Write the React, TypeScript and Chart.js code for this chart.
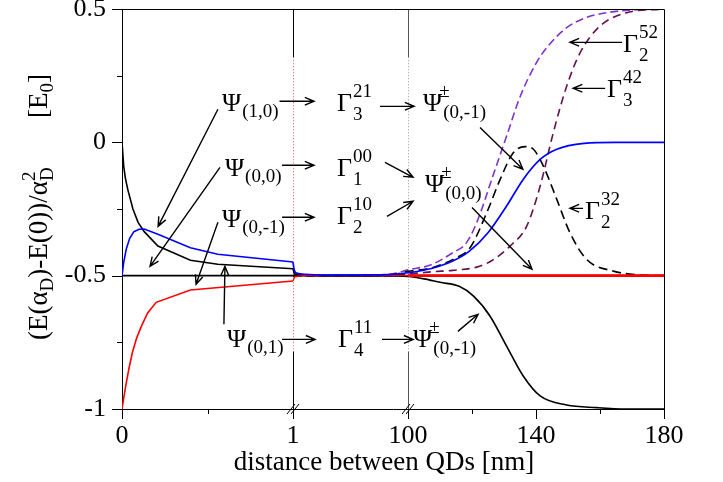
import React, { useEffect, useRef } from 'react';
import { Chart, registerables, LinearScale } from 'chart.js';

// ---------- axis layout (broken x axis: 0–1, 1–100, 100–180 nm) ----------
const AXIS_BREAKS = [0, 1, 100, 180];
const SEGMENT_WIDTHS = [171, 115, 256];

const X_TICKS = [0, 0.5, 1, 100, 120, 140, 160, 180];
const X_MAJOR = [0, 1, 100, 140, 180];
const Y_TICKS = [-1, -0.75, -0.5, -0.25, 0, 0.25, 0.5];
const Y_MAJOR = [-1, -0.5, 0, 0.5];
const Y_LABELS: Record<string, string> = { '-1': '-1', '-0.5': '-0.5', '0': '0', '0.5': '0.5' };

// ---------- data: segment 0–1 nm ----------
const NEAR_BLACK_X = [0, 0.01, 0.02, 0.035, 0.064, 0.094, 0.13, 0.21, 0.4, 0.56, 1];
const NEAR_BLACK_Y = [0, -0.09, -0.135, -0.18, -0.25, -0.3, -0.335, -0.389, -0.442, -0.457, -0.474];
const NEAR_BLUE_X = [0, 0.01, 0.025, 0.045, 0.07, 0.1, 0.13, 0.21, 0.4, 0.56, 1];
const NEAR_BLUE_Y = [-0.5, -0.45, -0.4, -0.36, -0.335, -0.326, -0.325, -0.345, -0.395, -0.42, -0.449];
const NEAR_RED_X = [0, 0.02, 0.04, 0.06, 0.085, 0.113, 0.15, 0.2, 0.4, 1];
const NEAR_RED_Y = [-1, -0.92, -0.85, -0.79, -0.735, -0.69, -0.64, -0.6, -0.554, -0.52];
const FLAT_X = [0, 180];
const FLAT_Y = [-0.5, -0.5];

// ---------- data: 1–180 nm ----------
const FAR_BLUE_X = [1, 2, 4, 12, 30, 70, 90, 100, 107, 114, 119, 125, 130.8, 136, 141.3, 146.5, 155, 165, 180];
const FAR_BLUE_Y = [-0.449, -0.478, -0.49, -0.495, -0.498, -0.497, -0.494, -0.489, -0.474, -0.445, -0.41, -0.339, -0.239, -0.139, -0.064, -0.026, -0.004, 0, 0];
const FAR_BLACK_X = [1, 2, 4, 12, 50, 80, 100, 105, 110, 116, 120.4, 125.6, 130.8, 136, 141.3, 149.6, 159, 168, 180];
const FAR_BLACK_Y = [-0.474, -0.49, -0.495, -0.498, -0.5, -0.5, -0.503, -0.512, -0.525, -0.54, -0.576, -0.651, -0.764, -0.876, -0.951, -0.985, -0.995, -1, -1];
const MID_RED_X = [1, 2, 4, 12, 100];
const MID_RED_Y = [-0.52, -0.508, -0.503, -0.5, -0.5];
const FAR_RED_X = [100, 180];
const FAR_RED_Y = [-0.5, -0.5];
const PURPLE_X = [1, 60, 80, 90, 100, 107, 114, 118.3, 121.5, 126.7, 131, 135, 140.2, 144.4, 149.6, 155, 162, 170, 180];
const PURPLE_Y = [-0.5, -0.5, -0.496, -0.49, -0.478, -0.46, -0.414, -0.376, -0.3, -0.12, 0.03, 0.17, 0.3, 0.37, 0.43, 0.465, 0.486, 0.496, 0.5];
const DASHED_BLACK_X = [1, 70, 90, 100, 107, 115.2, 119.4, 124.6, 128.8, 132.9, 136.6, 139.2, 142.3, 146.5, 150.6, 155.8, 164.2, 172, 180];
const DASHED_BLACK_Y = [-0.5, -0.5, -0.494, -0.484, -0.472, -0.432, -0.395, -0.264, -0.139, -0.039, -0.016, -0.026, -0.089, -0.214, -0.339, -0.439, -0.483, -0.497, -0.5];
const MAROON_X = [1, 80, 100, 107.9, 114, 121.5, 126, 131.9, 137.1, 141.3, 145.4, 149.6, 153.8, 160, 168.3, 180];
const MAROON_Y = [-0.5, -0.5, -0.494, -0.485, -0.48, -0.468, -0.445, -0.389, -0.314, -0.164, 0.036, 0.211, 0.336, 0.436, 0.486, 0.5];

// ---------- annotations (data coordinates) ----------
type Label = { x: number; y: number; main: string; sup?: string; sub?: string };
const LABELS: Label[] = [
  { x: 0.585, y: 0.116, main: 'Ψ', sub: '(1,0)' },
  { x: 38.9, y: 0.116, main: 'Γ', sup: '21', sub: '3' },
  { x: 104.7, y: 0.116, main: 'Ψ', sup: '±', sub: '(0,-1)' },
  { x: 0.602, y: -0.1275, main: 'Ψ', sub: '(0,0)' },
  { x: 38.9, y: -0.1275, main: 'Γ', sup: '00', sub: '1' },
  { x: 105.3, y: -0.1875, main: 'Ψ', sup: '±', sub: '(0,0)' },
  { x: 0.585, y: -0.319, main: 'Ψ', sub: '(0,-1)' },
  { x: 38.9, y: -0.3075, main: 'Γ', sup: '10', sub: '2' },
  { x: 0.614, y: -0.769, main: 'Ψ', sub: '(0,1)' },
  { x: 39.7, y: -0.769, main: 'Γ', sup: '11', sub: '4' },
  { x: 101.6, y: -0.769, main: 'Ψ', sup: '±', sub: '(0,-1)' },
  { x: 167.2, y: 0.3375, main: 'Γ', sup: '52', sub: '2' },
  { x: 162.2, y: 0.169, main: 'Γ', sup: '42', sub: '3' },
  { x: 155.3, y: -0.289, main: 'Γ', sup: '32', sub: '2' },
];
// [x1, y1, x2, y2] – arrow from (x1,y1) pointing to (x2,y2)
const ARROWS: number[][] = [
  [0.921, 0.154, 19.1, 0.154],
  [75.9, 0.135, 101.9, 0.135],
  [0.936, -0.086, 19.1, -0.086],
  [80.2, -0.075, 101.6, -0.131],
  [0.936, -0.281, 19.1, -0.281],
  [81.9, -0.2775, 101.6, -0.221],
  [0.936, -0.739, 20, -0.739],
  [77.6, -0.739, 101.6, -0.739],
  [115.6, -0.709, 121.9, -0.645],
  [166.9, 0.375, 150.6, 0.375],
  [161.6, 0.2025, 151.6, 0.2025],
  [154.7, -0.2475, 150.6, -0.2475],
  [122.5, 0.056, 135.9, -0.101],
  [120, -0.244, 138.75, -0.476],
  [0.561, 0.124, 0.211, -0.315],
  [0.573, -0.094, 0.164, -0.465],
  [0.561, -0.3, 0.433, -0.5325],
  [0.596, -0.6825, 0.602, -0.465],
];
const BREAK_LINES = [
  { x: 1, solid: '#000000', dotted: '#e05a5a' },
  { x: 100, solid: '#555555', dotted: '#9a9a9a' },
];
const DOTTED_FROM = 0.319;
const DOTTED_TO = -0.784;

const X_TITLE = 'distance between QDs [nm]';

// ---------- custom broken scale ----------
const TOTAL_W = SEGMENT_WIDTHS.reduce((a, b) => a + b, 0);
function nmToDecimal(v: number) {
  let acc = 0;
  for (let i = 0; i < SEGMENT_WIDTHS.length; i++) {
    const a = AXIS_BREAKS[i];
    const b = AXIS_BREAKS[i + 1];
    if (v <= b || i === SEGMENT_WIDTHS.length - 1) {
      return (acc + ((v - a) / (b - a)) * SEGMENT_WIDTHS[i]) / TOTAL_W;
    }
    acc += SEGMENT_WIDTHS[i];
  }
  return 1;
}
function decimalToNm(d: number) {
  let pos = d * TOTAL_W;
  for (let i = 0; i < SEGMENT_WIDTHS.length; i++) {
    if (pos <= SEGMENT_WIDTHS[i] || i === SEGMENT_WIDTHS.length - 1) {
      return AXIS_BREAKS[i] + (pos / SEGMENT_WIDTHS[i]) * (AXIS_BREAKS[i + 1] - AXIS_BREAKS[i]);
    }
    pos -= SEGMENT_WIDTHS[i];
  }
  return AXIS_BREAKS[AXIS_BREAKS.length - 1];
}

class BrokenScale extends LinearScale {
  static id = 'broken';
  static defaults = LinearScale.defaults;
  getPixelForValue(value: any) {
    if (value === null || value === undefined || isNaN(value)) return NaN;
    return this.getPixelForDecimal(nmToDecimal(value));
  }
  getValueForPixel(pixel: number) {
    return decimalToNm(this.getDecimalForPixel(pixel));
  }
}

Chart.register(...registerables, BrokenScale as any);

const FONT = '"Liberation Serif", "Times New Roman", serif';
const BIG = 26;
const SMALL = 19;

function pts(xs: number[], ys: number[]) {
  return xs.map((x, i) => ({ x, y: ys[i] }));
}

function drawArrow(ctx: CanvasRenderingContext2D, x1: number, y1: number, x2: number, y2: number) {
  const ang = Math.atan2(y2 - y1, x2 - x1);
  const L = 10;
  const A = 0.4;
  ctx.beginPath();
  ctx.moveTo(x1, y1);
  ctx.lineTo(x2, y2);
  ctx.moveTo(x2 - L * Math.cos(ang - A), y2 - L * Math.sin(ang - A));
  ctx.lineTo(x2, y2);
  ctx.lineTo(x2 - L * Math.cos(ang + A), y2 - L * Math.sin(ang + A));
  ctx.stroke();
}

function drawLabel(ctx: CanvasRenderingContext2D, px: number, py: number, l: Label) {
  ctx.textAlign = 'left';
  ctx.textBaseline = 'alphabetic';
  ctx.font = `${BIG}px ${FONT}`;
  ctx.fillText(l.main, px, py);
  const w = ctx.measureText(l.main).width;
  ctx.font = `${SMALL}px ${FONT}`;
  const isPsi = l.main === 'Ψ';
  if (l.sup) {
    const sx = isPsi ? px + w - 3 : px + w + 1;
    ctx.fillText(l.sup, sx, py - 14);
  }
  if (l.sub) {
    const dy = isPsi ? (l.sup ? 7 : 6) : 9;
    ctx.fillText(l.sub, px + w + 1, py + dy);
  }
}

const annotationPlugin = {
  id: 'annotations',
  beforeDatasetsDraw(chart: any) {
    const { ctx, scales } = chart;
    const xs = scales.x;
    const ys = scales.y;
    const top = chart.chartArea.top;
    const bottom = chart.chartArea.bottom;
    ctx.save();
    ctx.lineWidth = 1;
    for (const b of BREAK_LINES) {
      const px = Math.round(xs.getPixelForValue(b.x)) + 0.5;
      const yA = ys.getPixelForValue(DOTTED_FROM);
      const yB = ys.getPixelForValue(DOTTED_TO);
      ctx.strokeStyle = b.solid;
      ctx.setLineDash([]);
      ctx.beginPath();
      ctx.moveTo(px, top);
      ctx.lineTo(px, yA);
      ctx.moveTo(px, yB);
      ctx.lineTo(px, bottom);
      ctx.stroke();
      ctx.strokeStyle = b.dotted;
      ctx.setLineDash([1, 2]);
      ctx.beginPath();
      ctx.moveTo(px, yA);
      ctx.lineTo(px, yB);
      ctx.stroke();
    }
    ctx.restore();
  },
  afterDraw(chart: any) {
    const { ctx, scales, chartArea } = chart;
    const xs = scales.x;
    const ys = scales.y;
    ctx.save();
    ctx.setLineDash([]);
    ctx.strokeStyle = '#000';
    ctx.fillStyle = '#000';
    ctx.lineWidth = 1;
    // frame top / right
    ctx.beginPath();
    ctx.moveTo(chartArea.left, chartArea.top + 0.5);
    ctx.lineTo(chartArea.right + 0.5, chartArea.top + 0.5);
    ctx.lineTo(chartArea.right + 0.5, chartArea.bottom);
    ctx.stroke();
    // tick marks
    ctx.beginPath();
    for (const v of X_TICKS) {
      const px = Math.round(xs.getPixelForValue(v)) + 0.5;
      const len = X_MAJOR.includes(v) ? 10 : 5;
      ctx.moveTo(px, chartArea.bottom);
      ctx.lineTo(px, chartArea.bottom + len);
    }
    for (const v of Y_TICKS) {
      const py = Math.round(ys.getPixelForValue(v)) + 0.5;
      const len = Y_MAJOR.includes(v) ? 10 : 5;
      ctx.moveTo(chartArea.left, py);
      ctx.lineTo(chartArea.left - len, py);
    }
    ctx.stroke();
    // axis break marks
    ctx.beginPath();
    for (const b of BREAK_LINES) {
      const px = xs.getPixelForValue(b.x);
      const py = chartArea.bottom;
      for (const o of [-2, 2]) {
        ctx.moveTo(px + o - 4, py + 5);
        ctx.lineTo(px + o + 4, py - 5);
      }
    }
    ctx.stroke();
    // arrows
    ctx.lineWidth = 1.4;
    for (const a of ARROWS) {
      drawArrow(ctx, xs.getPixelForValue(a[0]), ys.getPixelForValue(a[1]), xs.getPixelForValue(a[2]), ys.getPixelForValue(a[3]));
    }
    // labels
    for (const l of LABELS) {
      drawLabel(ctx, xs.getPixelForValue(l.x), ys.getPixelForValue(l.y), l);
    }
    // x title
    ctx.font = `27px ${FONT}`;
    ctx.textAlign = 'center';
    ctx.textBaseline = 'alphabetic';
    ctx.fillText(X_TITLE, (chartArea.left + chartArea.right) / 2 - 9, 470);
    // y title (rotated)
    ctx.save();
    ctx.translate(47, 340);
    ctx.rotate(-Math.PI / 2);
    ctx.textAlign = 'left';
    let cx = 0;
    const big = `27px ${FONT}`;
    const small = `19px ${FONT}`;
    const put = (t: string, f: string, dy: number, adv = true) => {
      ctx.font = f;
      ctx.fillText(t, cx, dy);
      const w = ctx.measureText(t).width;
      if (adv) cx += w;
      return w;
    };
    put('(E(α', big, 0);
    put('D', small, 6);
    put(')-E(0))/α', big, 0);
    const w1 = put('2', small, -12, false);
    const w2 = put('D', small, 6, false);
    cx += Math.max(w1, w2);
    cx = 222;
    put('[E', big, 0);
    put('0', small, 6);
    put(']', big, 0);
    ctx.restore();
    ctx.restore();
  },
};

export default function App() {
  const ref = useRef<HTMLCanvasElement>(null);
  useEffect(() => {
    if (!ref.current) return;
    const solid = (data: any, color: string, width = 1.6) => ({
      data,
      borderColor: color,
      backgroundColor: color,
      borderWidth: width,
      pointRadius: 0,
      fill: false,
      tension: 0,
    });
    const smooth = (data: any, color: string, width = 1.6, dash: number[] = []) => ({
      ...solid(data, color, width),
      cubicInterpolationMode: 'monotone',
      borderDash: dash,
    });
    const chart = new Chart(ref.current, {
      type: 'line',
      data: {
        datasets: [
          smooth(pts(FAR_BLUE_X, FAR_BLUE_Y), '#0000ff', 1.7),
          solid(pts(NEAR_BLUE_X, NEAR_BLUE_Y), '#0000ff', 1.6),
          smooth(pts(FAR_RED_X, FAR_RED_Y), '#ff0000', 2.6),
          smooth(pts(MID_RED_X, MID_RED_Y), '#ff0000', 1.4),
          solid(pts(NEAR_RED_X, NEAR_RED_Y), '#ff0000', 1.6),
          smooth(pts(FAR_BLACK_X, FAR_BLACK_Y), '#000000', 1.6),
          solid(pts(NEAR_BLACK_X, NEAR_BLACK_Y), '#000000', 1.6),
          solid(pts(FLAT_X, FLAT_Y), '#000000', 1.6),
          smooth(pts(DASHED_BLACK_X, DASHED_BLACK_Y), '#000000', 1.6, [9, 5]),
          smooth(pts(MAROON_X, MAROON_Y), '#66104f', 1.6, [8, 5]),
          smooth(pts(PURPLE_X, PURPLE_Y), '#8033cc', 1.6, [8, 4]),
        ] as any,
      },
      options: {
        responsive: false,
        maintainAspectRatio: false,
        devicePixelRatio: 1,
        animation: false,
        events: [],
        layout: { padding: { left: 0, top: 9, right: 59, bottom: 0 } },
        plugins: { legend: { display: false }, tooltip: { enabled: false } },
        scales: {
          x: {
            type: 'broken' as any,
            min: 0,
            max: 180,
            afterBuildTicks: (s: any) => {
              s.ticks = X_TICKS.map((v) => ({ value: v }));
            },
            afterFit: (s: any) => {
              s.height = 73;
              s.paddingLeft = 0;
              s.paddingRight = 0;
            },
            grid: { display: false, drawTicks: false },
            border: { display: true, color: '#000', width: 1 },
            ticks: {
              autoSkip: false,
              maxRotation: 0,
              minRotation: 0,
              padding: 12,
              color: '#000',
              font: { family: FONT, size: BIG },
              callback: (v: any) => (X_MAJOR.includes(Number(v)) ? String(v) : ''),
            },
          },
          y: {
            type: 'linear',
            min: -1,
            max: 0.5,
            afterBuildTicks: (s: any) => {
              s.ticks = Y_TICKS.map((v) => ({ value: v }));
            },
            afterFit: (s: any) => {
              s.width = 122;
              s.paddingTop = 0;
              s.paddingBottom = 0;
            },
            grid: { display: false, drawTicks: false },
            border: { display: true, color: '#000', width: 1 },
            ticks: {
              autoSkip: false,
              padding: 16,
              color: '#000',
              font: { family: FONT, size: BIG },
              callback: (v: any) => Y_LABELS[String(v)] ?? '',
            },
          },
        },
      } as any,
      plugins: [annotationPlugin],
    });
    return () => chart.destroy();
  }, []);
  return (
    <div style={{ position: 'absolute', left: 0, top: 0, width: 723, height: 482, background: '#fff' }}>
      <canvas ref={ref} width={723} height={482} style={{ display: 'block', width: 723, height: 482 }} />
    </div>
  );
}
